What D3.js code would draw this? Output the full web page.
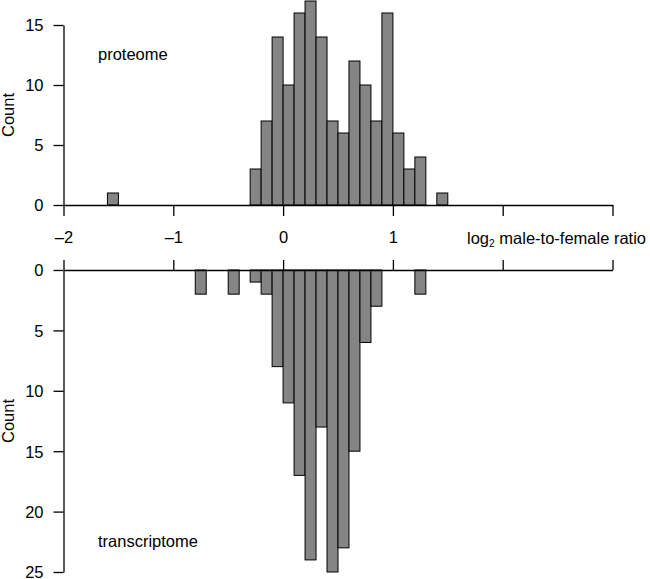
<!DOCTYPE html>
<html>
<head>
<meta charset="utf-8">
<script src="https://cdn.jsdelivr.net/npm/d3@7"></script>
<style>
  html, body { margin: 0; padding: 0; background: #fff; }
  svg { display: block; }
  text { font-family: "Liberation Sans", Arial, Helvetica, sans-serif; fill: #000; }
</style>
</head>
<body>
<svg id="chart" width="650" height="579"></svg>
<script>
// ---- data (bin lower edges, bin width 0.1) ----
const binWidth = 0.1;
const proteomeX = [-1.6, -0.3, -0.2, -0.1, 0.0, 0.1, 0.2, 0.3, 0.4, 0.5, 0.6, 0.7, 0.8, 0.9, 1.0, 1.1, 1.2, 1.4];
const proteomeCounts = [1, 3, 7, 14, 10, 16, 17, 14, 7, 6, 12, 10, 7, 16, 6, 3, 4, 1];
const transcriptomeX = [-0.8, -0.5, -0.3, -0.2, -0.1, 0.0, 0.1, 0.2, 0.3, 0.4, 0.5, 0.6, 0.7, 0.8, 1.2];
const transcriptomeCounts = [2, 2, 1, 2, 8, 11, 17, 24, 13, 25, 23, 15, 6, 3, 2];

const xTicks = [-2, -1, 0, 1, 2, 3];
const xTickLabels = ["\u20132", "\u20131", "0", "1", "", ""];
const yTopTicks = [0, 5, 10, 15];
const yBotTicks = [0, 5, 10, 15, 20, 25];

const xTitle = "male-to-female ratio";
const topLabel = "proteome";
const botLabel = "transcriptome";
const yTitle = "Count";

// ---- layout ----
const svg = d3.select("#chart");
const fontSize = 16.5;
const x = d3.scaleLinear().domain([-2, 3]).range([63.5, 612.5]);
const yTop = d3.scaleLinear().domain([0, 15]).range([205, 25]);
const yBot = d3.scaleLinear().domain([0, 25]).range([270, 572]);

const barFill = "#858585";

// top histogram bars
const topData = proteomeX.map((v, i) => ({ x0: v, x1: v + binWidth, c: proteomeCounts[i] }));
svg.append("g").selectAll("rect").data(topData).join("rect")
  .attr("x", d => x(d.x0))
  .attr("width", d => x(d.x1) - x(d.x0))
  .attr("y", d => yTop(d.c))
  .attr("height", d => yTop(0) - yTop(d.c))
  .attr("fill", barFill).attr("stroke", "#000").attr("stroke-width", 1);

// bottom histogram bars (downward)
const botData = transcriptomeX.map((v, i) => ({ x0: v, x1: v + binWidth, c: transcriptomeCounts[i] }));
svg.append("g").selectAll("rect").data(botData).join("rect")
  .attr("x", d => x(d.x0))
  .attr("width", d => x(d.x1) - x(d.x0))
  .attr("y", yBot(0))
  .attr("height", d => yBot(d.c) - yBot(0))
  .attr("fill", barFill).attr("stroke", "#000").attr("stroke-width", 1);

function styleAxis(g) {
  g.select(".domain").attr("stroke", "#000").attr("stroke-width", 1.3);
  g.selectAll(".tick line").attr("stroke", "#000").attr("stroke-width", 1.3);
  g.selectAll(".tick text").attr("font-size", fontSize).attr("fill", "#000")
    .attr("font-family", "Liberation Sans, Arial, sans-serif");
}

// top x axis (ticks down, labels below)
const xAxisTop = svg.append("g").attr("transform", `translate(0,${yTop(0)})`)
  .call(d3.axisBottom(x).tickValues(xTicks).tickSize(11).tickSizeOuter(0)
    .tickFormat((d, i) => xTickLabels[i]).tickPadding(15));
styleAxis(xAxisTop);

// bottom x axis (ticks up, no labels)
const xAxisBot = svg.append("g").attr("transform", `translate(0,${yBot(0)})`)
  .call(d3.axisTop(x).tickValues(xTicks).tickSize(10).tickSizeOuter(0).tickFormat(""));
styleAxis(xAxisBot);

// y axes
const yAxisTop = svg.append("g").attr("transform", `translate(${x(-2)},0)`)
  .call(d3.axisLeft(yTop).tickValues(yTopTicks).tickSize(10).tickSizeOuter(0).tickPadding(10));
styleAxis(yAxisTop);
yAxisTop.selectAll(".tick text").attr("dy", "0.36em");

const yAxisBot = svg.append("g").attr("transform", `translate(${x(-2)},0)`)
  .call(d3.axisLeft(yBot).tickValues(yBotTicks).tickSize(10).tickSizeOuter(0).tickPadding(10));
styleAxis(yAxisBot);
yAxisBot.selectAll(".tick text").attr("dy", "0.36em");

// x title with subscript
const xt = svg.append("text").attr("x", 467).attr("y", 243.5).attr("font-size", fontSize);
xt.append("tspan").text("log");
xt.append("tspan").attr("font-size", fontSize * 0.62).attr("dy", 3).text("2");
xt.append("tspan").attr("dy", -3).text(" " + xTitle);

// panel labels
svg.append("text").attr("x", 98).attr("y", 59.5).attr("font-size", fontSize).text(topLabel);
svg.append("text").attr("x", 98).attr("y", 547).attr("font-size", fontSize).text(botLabel);

// y titles
function yTitleAt(cy) {
  svg.append("text")
    .attr("transform", `translate(14,${cy}) rotate(-90)`)
    .attr("text-anchor", "middle")
    .attr("font-size", fontSize)
    .text(yTitle);
}
yTitleAt((yTop.range()[0] + yTop.range()[1]) / 2);
yTitleAt((yBot.range()[0] + yBot.range()[1]) / 2);
</script>
</body>
</html>
